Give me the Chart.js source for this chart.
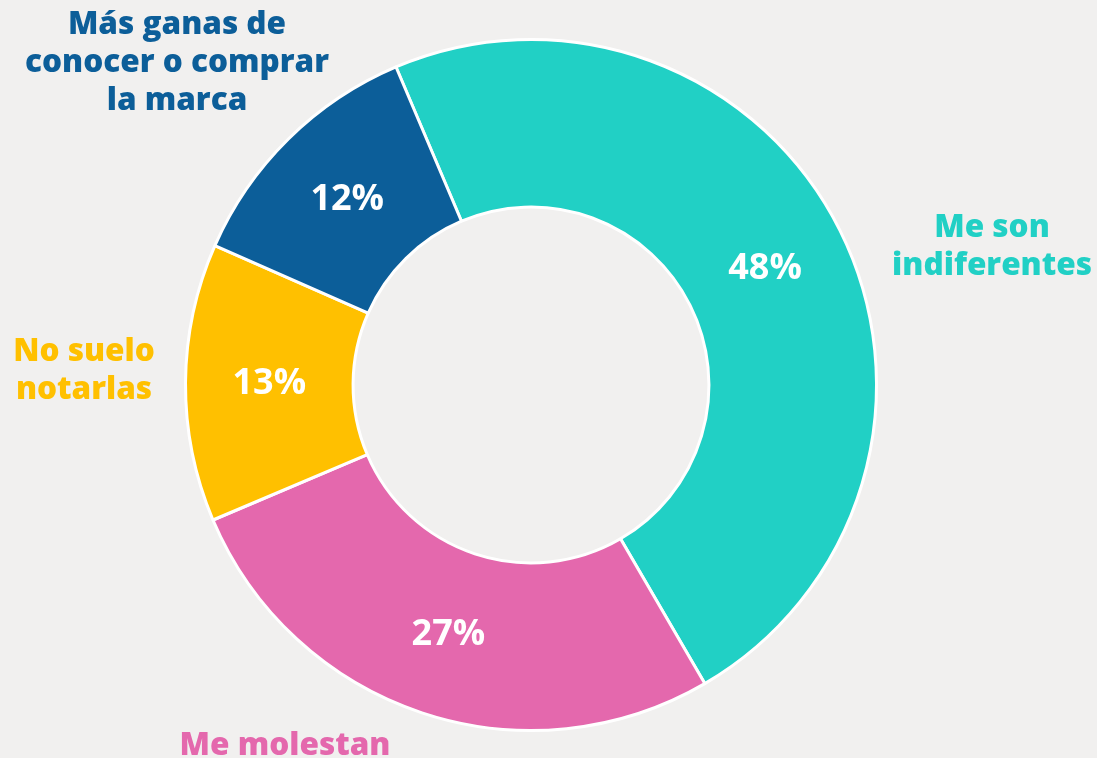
<!DOCTYPE html>
<html>
<head>
<meta charset="utf-8">
<script src="https://cdn.jsdelivr.net/npm/chart.js@4"></script>
<style>
  html, body { margin: 0; padding: 0; background: #f1f0ef; }
  #wrap { width: 1097px; height: 758px; position: relative; }
</style>
</head>
<body>
<div id="wrap"><canvas id="chart"></canvas></div>
<script>
// data
const categories = ["Me son indiferentes", "Me molestan", "No suelo notarlas", "Más ganas de conocer o comprar la marca"]
const values = [48, 27, 13, 12]
const colors = ["#21d0c5", "#e468ad", "#ffc000", "#0c5e99"]
const labelLines = [["Me son", "indiferentes"], ["Me molestan"], ["No suelo", "notarlas"], ["Más ganas de", "conocer o comprar", "la marca"]]

// where the category names sit, relative to the donut centre
const outerAnchors = [[461, -138], [-246, 361], [-447, -14], [-354, -322]]

const FONT = "'Open Sans', 'DejaVu Sans', sans-serif"

const labelPlugin = {
  id: "donutLabels",
  afterDatasetsDraw(chart) {
    const ctx = chart.ctx
    const meta = chart.getDatasetMeta(0)
    ctx.save()
    ctx.textAlign = "center"
    ctx.textBaseline = "middle"
    meta.data.forEach((arc, i) => {
      // percentage inside the ring
      const p = arc.tooltipPosition()
      ctx.fillStyle = "#ffffff"
      ctx.font = "bold 36px " + FONT
      ctx.fillText(values[i] + "%", p.x, p.y + 1)

      // category name outside
      const lines = labelLines[i]
      const lh = 38
      const cx = arc.x + outerAnchors[i][0]
      const cy = arc.y + outerAnchors[i][1]
      ctx.fillStyle = colors[i]
      ctx.font = "800 31.5px " + FONT
      lines.forEach((t, j) => {
        ctx.fillText(t, cx, cy + (j - (lines.length - 1) / 2) * lh)
      })
    })
    ctx.restore()
  },
}

new Chart(document.getElementById("chart"), {
  type: "doughnut",
  data: {
    labels: categories,
    datasets: [
      {
        data: values,
        backgroundColor: colors,
        borderColor: "#ffffff",
        borderWidth: 3,
      },
    ],
  },
  options: {
    responsive: true,
    maintainAspectRatio: false,
    animation: false,
    rotation: -23,
    cutout: "51.5%",
    layout: {
      padding: { left: 184, right: 219, top: 37, bottom: 25 },
    },
    plugins: {
      legend: { display: false },
      tooltip: { enabled: false },
    },
  },
  plugins: [labelPlugin],
})
</script>
</body>
</html>
